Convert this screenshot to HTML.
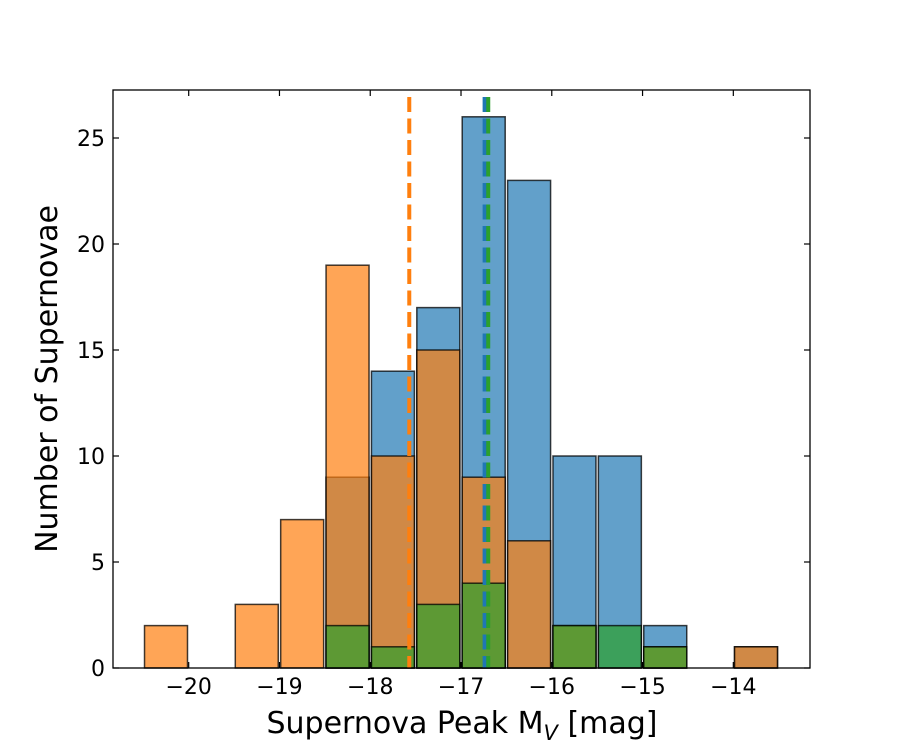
<!DOCTYPE html>
<html><head><meta charset="utf-8"><style>body{margin:0;background:#fff}svg{display:block}text{font-family:"DejaVu Sans","Liberation Sans",sans-serif}</style></head>
<body>
<svg id="chart" width="900" height="750"></svg>
<script>
const binStart = -20.5;
const binWidth = 0.5;
const blueCounts   = [0,0,0,0,9,14,17,26,23,10,10,2,0,1];
const orangeCounts = [2,0,3,7,19,10,15,9,6,2,0,1,0,1];
const greenCounts  = [0,0,0,0,2,1,3,4,0,2,2,1,0,0];
const medianLines = [{v:-17.57,c:'#ff7f0e',n:'orange-median-line'},{v:-16.74,c:'#1f77b4',n:'blue-median-line'},{v:-16.70,c:'#2ca02c',n:'green-median-line'}];
const xTicks = [-20,-19,-18,-17,-16,-15,-14];
const yTicks = [0,5,10,15,20,25];
const L=113,R=810,T=90,B=668;
const xs=v=>188.7+(v+20)*90.77;
const ys=v=>668-v*21.2;
const svg=document.getElementById('chart');
const NS='http://www.w3.org/2000/svg';
function mk(t,a,p){const e=document.createElementNS(NS,t);for(const k in a)e.setAttribute(k,a[k]);(p||svg).appendChild(e);return e;}
function bars(counts,color,name){
  counts.forEach((c,i)=>{ if(!c) return;
    const x0=xs(binStart+i*binWidth)+1.2, x1=xs(binStart+(i+1)*binWidth)-1.2;
    const r=mk('rect',{x:x0,y:ys(c),width:x1-x0,height:ys(0)-ys(c),fill:color,'fill-opacity':0.7,stroke:'#000','stroke-opacity':0.75,'stroke-width':1.5});
    
    
  });
}
bars(blueCounts,'#1f77b4','blue');
bars(orangeCounts,'#ff7f0e','orange');
bars(greenCounts,'#2ca02c','green');
medianLines.forEach(m=>{
  const l=mk('line',{x1:xs(m.v),x2:xs(m.v),y1:97,y2:B,stroke:m.c,'stroke-width':4,'stroke-dasharray':'15,6.5'});
  
  
});
const frame=mk('rect',{x:L,y:T,width:R-L,height:B-T,fill:'none',stroke:'#000','stroke-width':1.3});


xTicks.forEach(v=>{
  mk('line',{x1:xs(v),x2:xs(v),y1:B,y2:B-6,stroke:'#000','stroke-width':1.2});
  mk('line',{x1:xs(v),x2:xs(v),y1:T,y2:T+6,stroke:'#000','stroke-width':1.2});
  const t=mk('text',{x:xs(v),y:B+26,'text-anchor':'middle','font-size':22});
  t.textContent=(v<0?'\u2212':'')+Math.abs(v);
  
  
});
yTicks.forEach(v=>{
  mk('line',{x1:L,x2:L+6,y1:ys(v),y2:ys(v),stroke:'#000','stroke-width':1.2});
  mk('line',{x1:R,x2:R-6,y1:ys(v),y2:ys(v),stroke:'#000','stroke-width':1.2});
  const t=mk('text',{x:L-8,y:ys(v)+8,'text-anchor':'end','font-size':22});
  t.textContent=v;
  
  
});
const xl=mk('text',{x:462,y:733,'text-anchor':'middle','font-size':30});
xl.innerHTML='Supernova Peak M<tspan dy="7" font-size="21" font-style="italic">V</tspan><tspan dy="-7"> [mag]</tspan>';


const yl=mk('text',{x:57,y:379,'text-anchor':'middle','font-size':30,transform:'rotate(-90 57 379)'});
yl.textContent='Number of Supernovae';


</script>
</body></html>
